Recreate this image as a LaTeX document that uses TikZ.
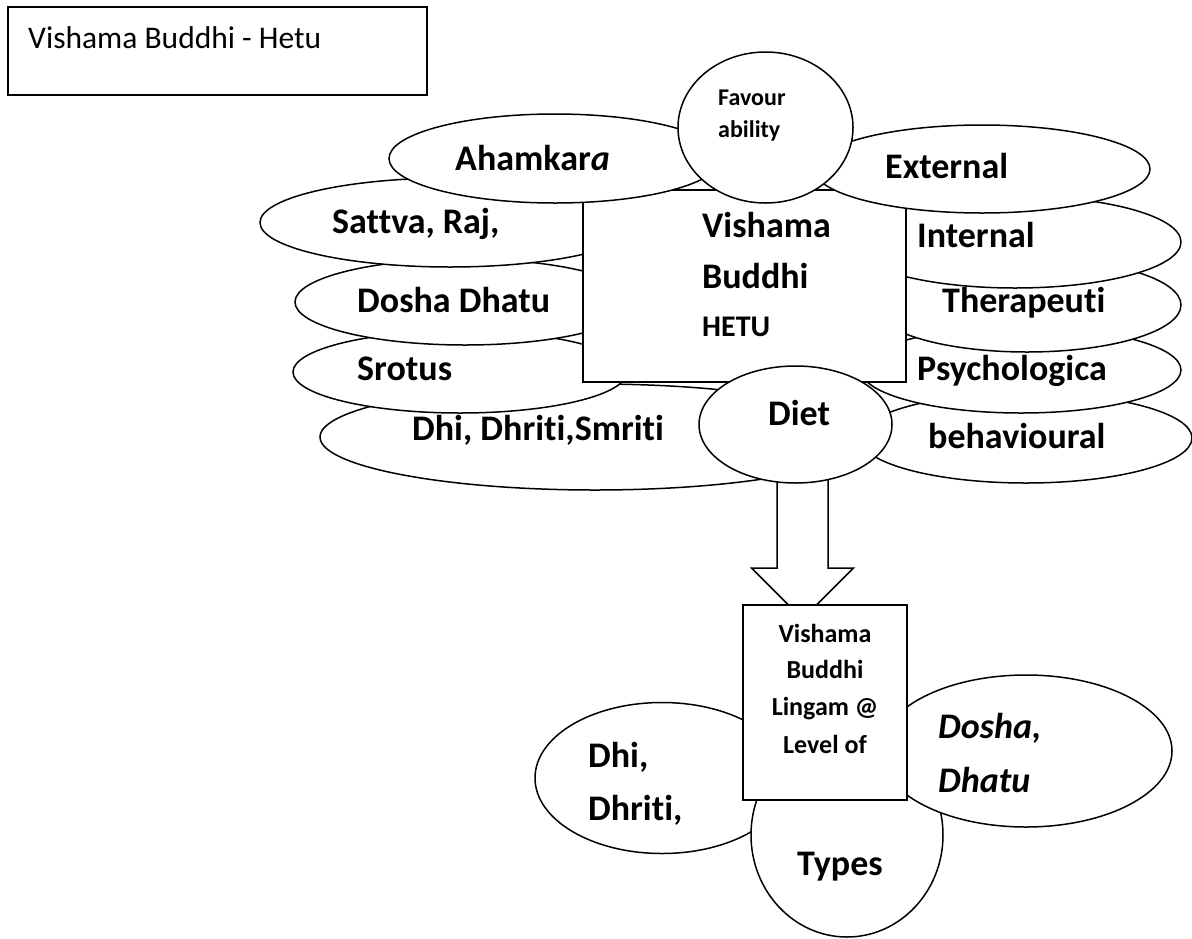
\documentclass[tikz,border=0pt]{standalone}
\usepackage{fontspec}
\setmainfont{Carlito}[Ligatures={NoCommon}]
\usetikzlibrary{shapes.geometric}

\tikzset{
  outline/.style={draw=black, line width=1.5pt, fill=white},
  oval/.style={outline, ellipse, inner sep=0pt},
  panel/.style={outline, rectangle, inner sep=0pt},
  word/.style={anchor=base west, inner sep=0pt, font=\fontsize{36}{40}\selectfont\bfseries},
  slantword/.style={word, font=\fontsize{36}{40}\selectfont\bfseries\itshape},
  midword/.style={word, font=\fontsize{30}{34}\selectfont\bfseries},
  smallword/.style={word, font=\fontsize{24}{28}\selectfont\bfseries},
  boxword/.style={anchor=base, inner sep=0pt, font=\fontsize{26}{30}\selectfont\bfseries},
  titleword/.style={anchor=base west, inner sep=0pt, font=\fontsize{31.5}{36}\selectfont},
}

\begin{document}
\begin{tikzpicture}[x=1pt, y=-1pt]
\useasboundingbox (0,0) rectangle (1192,938);

% left stack of ovals, lowest first
\node[oval, minimum width=550, minimum height=106] (dsm) at (595,437) {};
\node[word] (dsmtxt) at (412,440) {Dhi, Dhriti,Smriti};
\node[oval, minimum width=334, minimum height=82] (srotus) at (460,372) {};
\node[word] (srotustxt) at (357,380) {Srotus};
\node[oval, minimum width=340, minimum height=86] (dosha) at (465,302) {};
\node[word] (doshatxt) at (357,312) {Dosha Dhatu};
\node[oval, minimum width=380, minimum height=89] (sattva) at (450,222.5) {};
\node[word] (sattvatxt) at (332,233) {Sattva, Raj,};

% right stack of ovals, lowest first
\node[oval, minimum width=332, minimum height=90] (behav) at (1026,438) {};
\node[word] (behavtxt) at (928,448) {behavioural};
\node[oval, minimum width=320, minimum height=86] (psych) at (1021,370) {};
\node[word] (psychtxt) at (917,380) {Psychologica};
\node[oval, minimum width=308, minimum height=94] (thera) at (1027,305) {};
\node[word] (theratxt) at (942,312) {Therapeuti};
\node[oval, minimum width=332, minimum height=92] (internal) at (1015,242) {};
\node[word] (internaltxt) at (917,247) {Internal};

% central box
\node[panel, minimum width=323, minimum height=192] (hetu) at (744.5,286) {};
\node[word] (hetu1) at (702,237) {Vishama};
\node[word] (hetu2) at (702,288) {Buddhi};
\node[midword] (hetu3) at (702,336) {HETU};

% ovals lying over the box
\node[oval, minimum width=332, minimum height=89] (ahamkara) at (555,158.5) {};
\node[word] (ahamkaratxt) at (455,170) {Ahamkar\textit{a}};
\node[oval, minimum width=336, minimum height=88] (external) at (982,169) {};
\node[word] (externaltxt) at (885,178) {External};
\node[oval, minimum width=175, minimum height=151] (favour) at (765.5,127.5) {};
\node[smallword] (favour1) at (718,105) {Favour};
\node[smallword] (favour2) at (718,137) {ability};

% block arrow from the Diet oval down to the lower box
\coordinate (arrowtop) at (802.5,470);
\coordinate (arrowtip) at (802.5,619);
\draw[outline] (arrowtop) ++(-25.5,0) -- ++(0,98) -- ++(-25.5,0) -- (arrowtip)
  -- ++(51,-51) -- ++(-25.5,0) -- ++(0,-98) -- cycle;

\node[oval, minimum width=193, minimum height=117] (diet) at (795.5,424.5) {};
\node[word] (diettxt) at (768,425) {Diet};

% lower cluster
\node[oval, minimum width=254, minimum height=151] (dhi) at (662,778) {};
\node[word] (dhi1) at (588,767) {Dhi,};
\node[word] (dhi2) at (588,820) {Dhriti,};
\node[oval, minimum width=192, minimum height=204] (types) at (847,835) {};
\node[word] (typestxt) at (797,875) {Types};
\node[oval, minimum width=292, minimum height=152] (dosha2) at (1026,751) {};
\node[slantword] (dosha2a) at (938,738) {Dosha,};
\node[slantword] (dosha2b) at (938,792) {Dhatu};

\node[panel, minimum width=164, minimum height=195] (lingam) at (825,702.5) {};
\node[boxword] (lingam1) at (825,642) {Vishama};
\node[boxword] (lingam2) at (825,678) {Buddhi};
\node[boxword] (lingam3) at (825,715) {Lingam @};
\node[boxword] (lingam4) at (825,753) {Level of};

% title box
\node[panel, minimum width=419, minimum height=88] (title) at (217.5,51) {};
\node[titleword] (titletxt) at (28,48) {Vishama Buddhi - Hetu};

\end{tikzpicture}
\end{document}
